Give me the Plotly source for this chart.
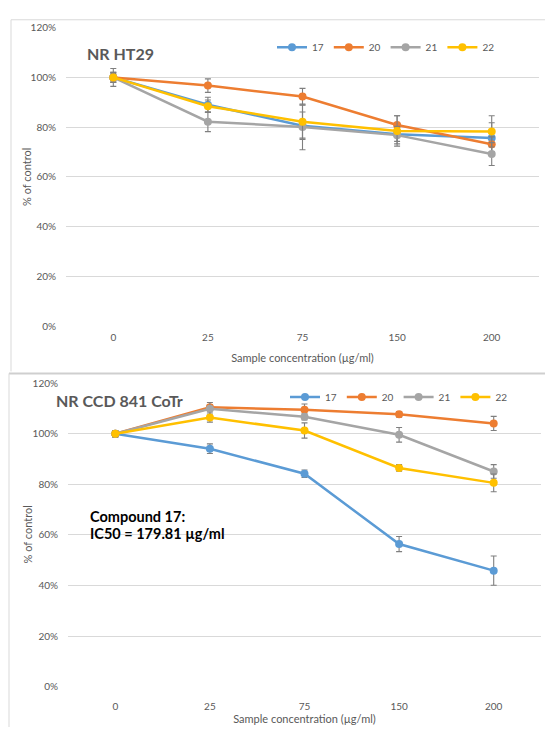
import plotly.graph_objects as go

# Concentrations (µg/ml) shown as categories
concentrations = ["0", "25", "75", "150", "200"]
series_names = ["17", "20", "21", "22"]
colors = ["#5B9BD5", "#ED7D31", "#A5A5A5", "#FFC000"]

# NR HT29 — % of control
ht29_17 = [100, 89.0, 80.6, 77.2, 75.6]
ht29_20 = [100, 96.7, 92.3, 80.9, 73.1]
ht29_21 = [100, 82.2, 80.1, 76.8, 69.2]
ht29_22 = [100, 88.4, 82.2, 78.5, 78.3]
ht29_err_17 = [2.0, 3.0, 5.5, 2.9, 6.2]
ht29_err_20 = [1.5, 2.7, 3.3, 3.7, 3.0]
ht29_err_21 = [3.6, 4.0, 9.2, 3.5, 4.6]
ht29_err_22 = [2.0, 2.5, 6.6, 6.1, 6.3]

# NR CCD 841 CoTr — % of control
ccd_17 = [100, 94.1, 84.2, 56.4, 45.9]
ccd_20 = [100, 110.5, 109.5, 107.7, 104.1]
ccd_21 = [100, 109.9, 106.7, 99.6, 85.1]
ccd_22 = [100, 106.4, 101.3, 86.5, 80.6]
ccd_err_17 = [1.3, 1.9, 1.5, 3.0, 5.8]
ccd_err_20 = [1.0, 1.0, 2.3, 1.1, 2.8]
ccd_err_21 = [1.3, 2.5, 1.2, 2.9, 2.7]
ccd_err_22 = [1.0, 1.8, 3.0, 1.3, 3.5]

y_ticks = [0, 20, 40, 60, 80, 100, 120]

W, H = 545, 733
FONT = "Lato, 'Open Sans', sans-serif"
TXT = "#595959"
GRID = "#D9D9D9"


def px(x):
    return x / W


def py(y):
    return 1 - y / H


fig = go.Figure()

panels = [
    ("x", "y", "legend", [ht29_17, ht29_20, ht29_21, ht29_22],
     [ht29_err_17, ht29_err_20, ht29_err_21, ht29_err_22]),
    ("x2", "y2", "legend2", [ccd_17, ccd_20, ccd_21, ccd_22],
     [ccd_err_17, ccd_err_20, ccd_err_21, ccd_err_22]),
]

positions = list(range(len(concentrations)))

for xa, ya, leg, values, errors in panels:
    for name, color, vals, errs in zip(series_names, colors, values, errors):
        fig.add_trace(go.Scatter(
            x=positions,
            y=[v / 100 for v in vals],
            name=name,
            mode="lines+markers",
            line=dict(color=color, width=2.5),
            marker=dict(color=color, size=8),
            error_y=dict(type="data", array=[e / 100 for e in errs],
                         color="#7F7F7F", thickness=1.1, width=3),
            xaxis=xa, yaxis=ya, legend=leg,
        ))


def x_axis(domain, anchor, label_gap, title_gap):
    return dict(
        domain=domain, anchor=anchor,
        tickmode="array", tickvals=positions, ticktext=concentrations,
        range=[-0.5, len(concentrations) - 0.5],
        showgrid=False, zeroline=False, showline=False, ticks="",
        tickfont=dict(family=FONT, size=10, color=TXT),
        ticklabelstandoff=label_gap,
        title=dict(text="Sample concentration (µg/ml)",
                   font=dict(family=FONT, size=11, color=TXT), standoff=title_gap),
    )


def y_axis(domain, anchor):
    return dict(
        domain=domain, anchor=anchor,
        tickmode="array", tickvals=[t / 100 for t in y_ticks], tickformat=".0%",
        range=[0, 1.2], showgrid=True, gridcolor=GRID, gridwidth=1,
        zeroline=False, showline=False, ticks="",
        tickfont=dict(family=FONT, size=10, color=TXT),
        ticklabelstandoff=9,
    )


legend_common = dict(
    orientation="h", bgcolor="rgba(0,0,0,0)",
    font=dict(family=FONT, size=10, color=TXT),
    xanchor="left", yanchor="middle", itemwidth=30,
    tracegroupgap=0,
)

fig.update_layout(
    width=W, height=H,
    margin=dict(l=0, r=0, t=0, b=0),
    paper_bgcolor="white", plot_bgcolor="white",
    xaxis=x_axis([px(66), px(539)], "y", 4, 12),
    yaxis=y_axis([py(325), py(21)], "x"),
    xaxis2=x_axis([px(68), px(541)], "y2", 12, 4),
    yaxis2=y_axis([py(692), py(383)], "x2"),
    legend=dict(x=px(272), y=py(41), **legend_common),
    legend2=dict(x=px(285), y=py(397), **legend_common),
    showlegend=True,
)

# Vertical axis titles
for yc in (173, 537):
    fig.add_annotation(text="% of control", x=px(27), y=py(yc), xref="paper", yref="paper",
                       xanchor="center", yanchor="middle", textangle=-90, showarrow=False,
                       font=dict(family=FONT, size=11, color=TXT))

# Panel titles and note
fig.add_annotation(text="<b>NR HT29</b>", x=px(85), y=py(47), xref="paper", yref="paper",
                   xanchor="left", yanchor="middle", showarrow=False,
                   font=dict(family=FONT, size=16, color=TXT))
fig.add_annotation(text="<b>NR CCD 841 CoTr</b>", x=px(54), y=py(401), xref="paper", yref="paper",
                   xanchor="left", yanchor="middle", showarrow=False,
                   font=dict(family=FONT, size=16, color=TXT))
for line_text, yc in (("Compound 17:", 519), ("IC50 = 179.81 µg/ml", 536)):
    fig.add_annotation(text=f"<b>{line_text}</b>", x=px(88), y=py(yc),
                       xref="paper", yref="paper", xanchor="left", yanchor="middle",
                       showarrow=False,
                       font=dict(family=FONT, size=14.5, color="#000000"))

# Chart-area borders of the two panels
border = dict(color="#D9D9D9", width=1)
fig.add_shape(type="line", xref="paper", yref="paper", x0=px(11), x1=1, y0=py(13), y1=py(13), line=border)
fig.add_shape(type="line", xref="paper", yref="paper", x0=px(11), x1=px(11), y0=py(13), y1=py(371), line=border)
border2 = dict(color="#CFCFCF", width=2)
fig.add_shape(type="line", xref="paper", yref="paper", x0=px(9), x1=1, y0=py(373), y1=py(373), line=border2)
fig.add_shape(type="line", xref="paper", yref="paper", x0=px(9), x1=px(9), y0=py(373), y1=0, line=border)

fig.write_html("out.html")
